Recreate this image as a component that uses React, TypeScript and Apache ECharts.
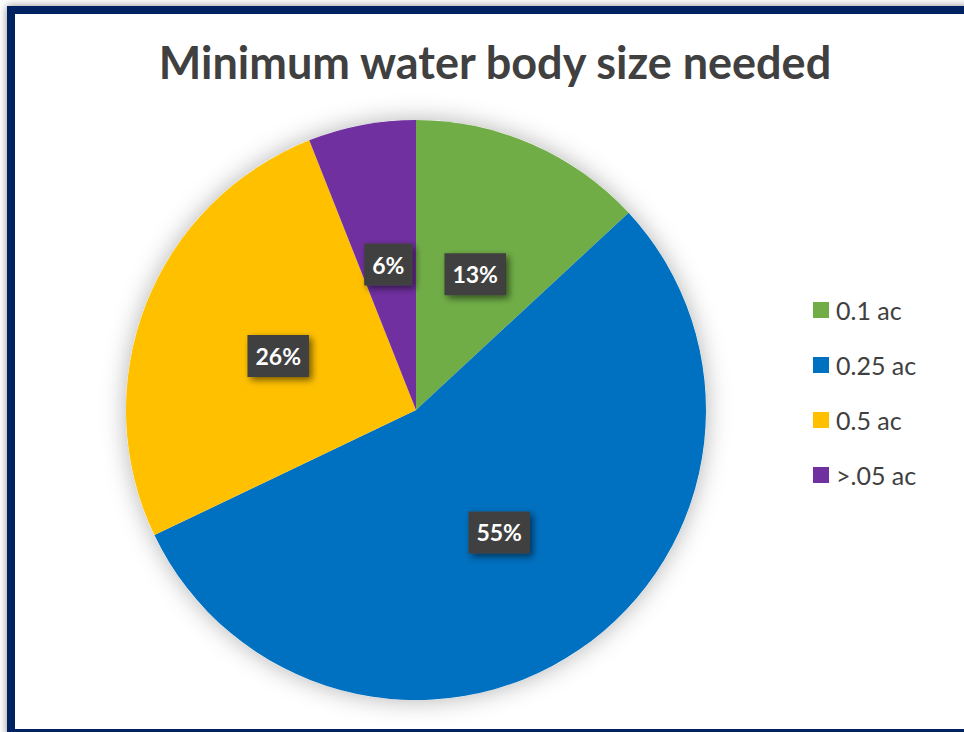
import React, { useEffect, useRef } from "react";
import * as echarts from "echarts";

const titleText = "Minimum water body size needed";
const categories = ["0.1 ac", "0.25 ac", "0.5 ac", ">.05 ac"];
const values = [13.1, 54.8, 26.1, 6.0];
const colors = ["#70AD47", "#0070C0", "#FFC000", "#7030A0"];

export default function App() {
  const ref = useRef<HTMLDivElement>(null);
  useEffect(() => {
    if (!ref.current) return;
    const chart = echarts.init(ref.current, undefined, { renderer: "svg" });
    const data = categories.map((name, i) => ({
      name,
      value: values[i],
      itemStyle: { color: colors[i] },
    }));
    chart.setOption({
      animation: false,
      backgroundColor: "#ffffff",
      title: {
        text: titleText,
        left: 490,
        textAlign: "center",
        top: 34,
        textStyle: {
          fontFamily: "Lato",
          fontWeight: "bold",
          fontSize: 45,
          color: "#404040",
        },
      },
      legend: {
        orient: "vertical",
        left: 813,
        top: 296,
        padding: 0,
        itemWidth: 16,
        itemHeight: 16,
        itemGap: 27,
        icon: "rect",
        data: categories,
        textStyle: {
          fontFamily: "Lato",
          fontSize: 25,
          lineHeight: 28,
          color: "#404040",
          padding: [0, 0, 0, 2],
        },
      },
      graphic: [
        {
          type: "rect",
          z: -10,
          silent: true,
          shape: { x: 11, y: 10, width: 1000, height: 723 },
          style: {
            fill: "#ffffff",
            stroke: "#002060",
            lineWidth: 8,
            shadowBlur: 8,
            shadowColor: "rgba(0,0,0,0.45)",
          },
        },
      ],
      series: [
        {
          type: "pie",
          name: "shadow",
          z: 1,
          silent: true,
          center: [416, 410],
          radius: 290,
          label: { show: false },
          labelLine: { show: false },
          tooltip: { show: false },
          data: [
            {
              name: "__shadow",
              value: 1,
              itemStyle: {
                color: "#ffffff",
                shadowBlur: 24,
                shadowColor: "rgba(0,0,0,0.3)",
              },
            },
          ],
        },
        {
          type: "pie",
          name: "Minimum water body size",
          z: 3,
          center: [416, 410],
          radius: 290,
          startAngle: 90,
          clockwise: true,
          itemStyle: { borderWidth: 0 },
          label: {
            show: true,
            position: "inside",
            formatter: (p: any) => Math.round(p.percent) + "%",
            color: "#ffffff",
            fontFamily: "Lato",
            fontWeight: "bold",
            fontSize: 23,
            lineHeight: 26,
            padding: [8, 8],
            backgroundColor: "#404040",
            shadowBlur: 7,
            shadowColor: "rgba(0,0,0,0.55)",
            shadowOffsetX: 3,
            shadowOffsetY: 3,
          },
          labelLine: { show: false },
          data,
        },
      ],
    });
    return () => chart.dispose();
  }, []);
  return (
    <div
      ref={ref}
      style={{ position: "fixed", left: 0, top: 0, width: 964, height: 732 }}
    />
  );
}
